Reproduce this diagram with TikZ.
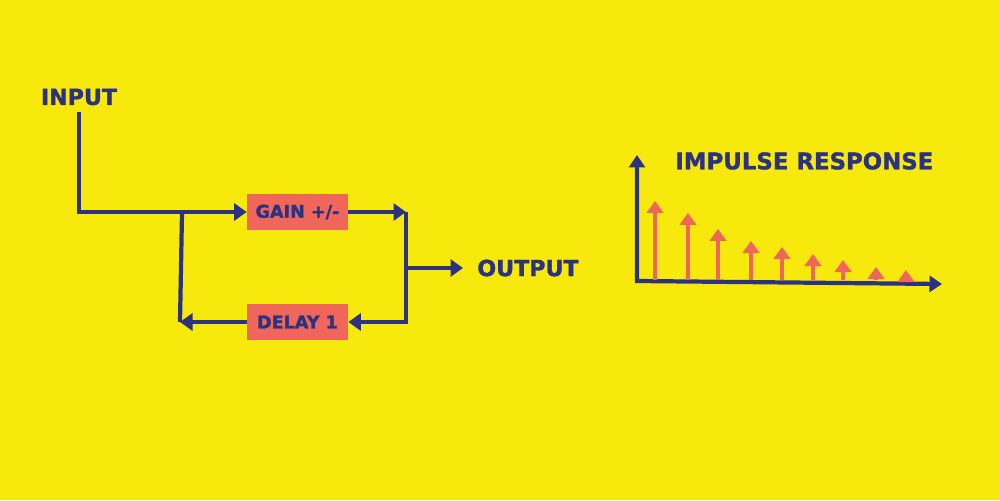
\documentclass[tikz,border=0pt]{standalone}
\usepackage{fontspec}
\setsansfont{DejaVu Sans}[BoldFeatures={FakeBold=1.6}]
\usetikzlibrary{arrows.meta,positioning,calc}
\definecolor{dspyellow}{HTML}{F8E90C}
\definecolor{dspnavy}{HTML}{2B3380}
\definecolor{dspred}{HTML}{F1665B}

\begin{document}
\begin{tikzpicture}[x=0.02cm, y=-0.02cm,
    wire/.style={dspnavy, line width=2.4pt},
    arrow/.style={wire, -{Triangle[length=0.25cm, width=0.34cm]}},
    block/.style={fill=dspred, minimum width=2.02cm, minimum height=0.72cm, inner sep=0pt, text=dspnavy, font=\fontsize{10}{11}\sffamily\bfseries},
    lbl/.style={text=dspnavy, font=\fontsize{12.6}{14}\sffamily\bfseries},
    stem/.style={dspred, line width=2.3pt, -{Triangle[length=0.24cm, width=0.33cm]}},
]
\fill[dspyellow] (0,0) rectangle (1000,500);

% filter structure
\node[lbl, inner sep=3.5pt] (input) at (79,97) {INPUT};
\node[block] (gain) at (297.5,212) {GAIN +/-};
\node[block] (delay) at (297.5,322) {DELAY 1};
\node[lbl, anchor=west, inner xsep=0.28cm, inner ysep=0pt] (output) at (463,268) {OUTPUT};

\coordinate (split) at (182,213);
\coordinate (fb) at (180,322);
\coordinate (jtop) at (406,212);
\coordinate (jbot) at (406,322);
\coordinate (jmid) at (406,268);

\draw[arrow] (input.south) |- (gain.west);
\draw[wire] (split) -- (fb);
\draw[arrow] (delay.west) -- (fb);
\draw[arrow] (gain.east) -- (jtop);
\draw[arrow] (jtop) -- (jbot) -- (delay.east);
\draw[arrow] (jmid) -- (output.west);

% impulse response
\node[lbl, anchor=west, inner sep=0pt, font=\fontsize{13}{14}\sffamily\bfseries] (title) at (675,161) {IMPULSE RESPONSE};
\coordinate (origin) at (637,281);
\coordinate (ytop) at (637,155);
\coordinate (xend) at (942,284);
\draw[wire, {Triangle[length=0.25cm, width=0.32cm]}-{Triangle[length=0.25cm, width=0.32cm]}] (ytop) -- (origin) -- (xend);
\foreach \x/\t in {655/201, 688/213, 718/229, 751/241, 782/247, 813/254, 843/260, 876/267, 906/270} {
    \draw[stem] (\x,280) -- (\x,\t);
}
\end{tikzpicture}
\end{document}
